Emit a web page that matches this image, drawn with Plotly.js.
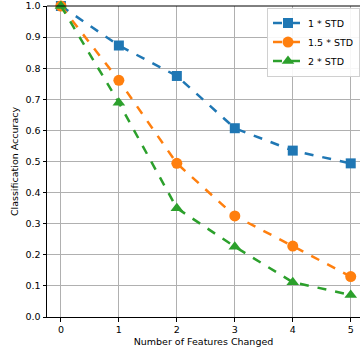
<!DOCTYPE html>
<html>
<head>
<meta charset="utf-8">
<script src="https://cdn.plot.ly/plotly-3.0.1.min.js"></script>
<style>html,body{margin:0;padding:0;background:#fff;}#chart{width:360px;height:350px;}</style>
</head>
<body>
<div id="chart"></div>
<script>
const featuresChanged = [0, 1, 2, 3, 4, 5];
const seriesNames = ["1 * STD", "1.5 * STD", "2 * STD"];
const std1 = [1.0, 0.873, 0.775, 0.607, 0.535, 0.494];
const std15 = [1.0, 0.761, 0.494, 0.325, 0.228, 0.130];
const std2 = [1.0, 0.689, 0.350, 0.226, 0.112, 0.071];
const yTicks = [0.0, 0.1, 0.2, 0.3, 0.4, 0.5, 0.6, 0.7, 0.8, 0.9, 1.0];
const yTickText = ["0.0","0.1","0.2","0.3","0.4","0.5","0.6","0.7","0.8","0.9","1.0"];

const colors = ["#1f77b4", "#ff7f0e", "#2ca02c"];
const symbols = ["square", "circle", "triangle-up"];
const allSeries = [std1, std15, std2];

const traces = allSeries.map((vals, i) => ({
  x: featuresChanged,
  y: vals,
  name: seriesNames[i],
  type: "scatter",
  mode: "lines+markers",
  line: {color: colors[i], width: 2.5, dash: "dash"},
  marker: {color: colors[i], symbol: symbols[i], size: i === 0 ? 10 : 11},
  cliponaxis: false
}));

const fam = "DejaVu Sans";
const font = {family: fam, size: 9.5, color: "#000"};

const layout = {
  width: 360, height: 350,
  margin: {l: 47, r: 0, t: 6, b: 33},
  paper_bgcolor: "#fff", plot_bgcolor: "#fff",
  font: font,
  showlegend: true,
  legend: {
    x: 1.0, xanchor: "right", y: 0.995, yanchor: "top",
    bgcolor: "rgba(255,255,255,0.9)", bordercolor: "#d0d0d0", borderwidth: 1,
    font: {family: fam, size: 9.5, color: "#000"},
    tracegroupgap: 0, itemwidth: 30
  },
  xaxis: {
    range: [-0.24, 5.16],
    tickvals: featuresChanged,
    ticks: "outside", ticklen: 3.5, tickcolor: "#000",
    showgrid: true, gridcolor: "#b0b0b0", gridwidth: 1,
    zeroline: false,
    showline: true, linecolor: "#000", linewidth: 1, mirror: false,
    title: {text: "Number of Features Changed", font: {family: fam, size: 9.5}, standoff: 4},
    tickfont: {family: fam, size: 9.5}
  },
  yaxis: {
    range: [0, 1.0],
    tickvals: yTicks, ticktext: yTickText,
    ticks: "outside", ticklen: 3.5, tickcolor: "#000",
    showgrid: true, gridcolor: "#b0b0b0", gridwidth: 1,
    zeroline: false,
    showline: true, linecolor: "#000", linewidth: 1,
    title: {text: "Classification Accuracy", font: {family: fam, size: 9.5}, standoff: 5},
    tickfont: {family: fam, size: 9.5}
  },
  shapes: [{type: "line", xref: "paper", yref: "paper", x0: 0, x1: 1, y0: 1, y1: 1, line: {color: "#000", width: 1}}]
};

Plotly.newPlot("chart", traces, layout, {displayModeBar: false, staticPlot: true});
</script>
</body>
</html>
